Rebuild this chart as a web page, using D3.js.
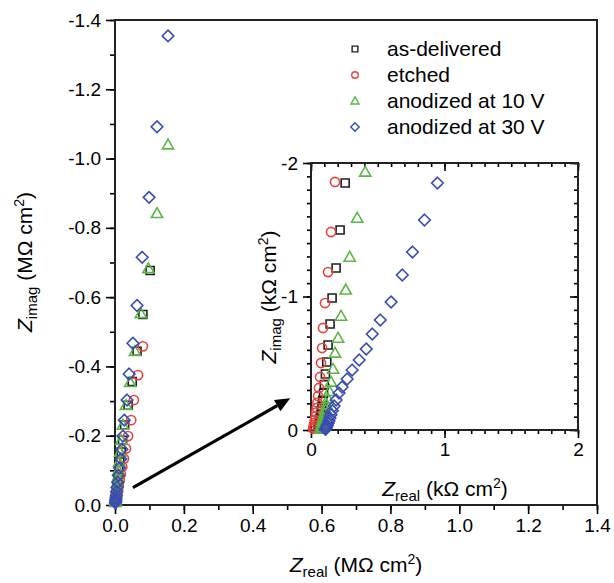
<!DOCTYPE html>
<html><head><meta charset="utf-8">
<script src="https://cdn.jsdelivr.net/npm/d3@7"></script>
<style>
body{margin:0;background:#fff;}
text{font-family:"Liberation Sans",Arial,sans-serif;fill:#000;}
</style></head>
<body><svg id="c" width="614" height="583"></svg>
<script>
// ---- data (values are -Z_imag magnitudes; axis labels show the minus sign) ----
const seriesNames = ["as-delivered","etched","anodized at 10 V","anodized at 30 V"];
const seriesShapes = ["square","circle","triangle","diamond"];
const seriesColors = ["#1e1e1e","#e8423e","#5db545","#3a4cb2"];

// main plot, MΩ cm²  [Zreal, -Zimag]
const mainAsDelivered = [[0.102,0.677],[0.081,0.550],[0.064,0.444],[0.050,0.356],[0.038,0.288],[0.028,0.231],[0.022,0.187],[0.018,0.153],[0.014,0.124],[0.011,0.100],[0.009,0.080],[0.007,0.063],[0.005,0.049],[0.004,0.038],[0.003,0.028],[0.002,0.020],[0.002,0.013],[0.001,0.008]];
const mainEtched = [[0.081,0.458],[0.067,0.375],[0.055,0.303],[0.047,0.245],[0.038,0.199],[0.032,0.163],[0.026,0.134],[0.021,0.110],[0.017,0.089],[0.014,0.072],[0.011,0.057],[0.009,0.045],[0.007,0.035],[0.005,0.026],[0.004,0.019],[0.003,0.013],[0.002,0.008]];
const mainAnod10 = [[0.154,1.040],[0.122,0.842],[0.097,0.683],[0.075,0.553],[0.058,0.444],[0.044,0.354],[0.032,0.288],[0.023,0.231],[0.018,0.187],[0.015,0.153],[0.012,0.124],[0.010,0.100],[0.008,0.080],[0.006,0.063],[0.005,0.049],[0.004,0.038],[0.003,0.028],[0.002,0.020],[0.002,0.013],[0.001,0.008]];
const mainAnod30 = [[0.154,1.354],[0.122,1.092],[0.099,0.888],[0.079,0.715],[0.064,0.576],[0.052,0.467],[0.041,0.378],[0.035,0.303],[0.027,0.245],[0.023,0.199],[0.020,0.161],[0.017,0.133],[0.013,0.107],[0.010,0.085],[0.008,0.066],[0.006,0.051],[0.005,0.039],[0.004,0.029],[0.003,0.021],[0.002,0.015],[0.002,0.010],[0.001,0.006]];

// inset, kΩ cm²
const insetAsDelivered = [[0.256,1.850],[0.218,1.498],[0.188,1.213],[0.158,0.989],[0.143,0.794],[0.128,0.637],[0.118,0.509],[0.108,0.419],[0.100,0.340],[0.094,0.275],[0.088,0.222],[0.082,0.178],[0.077,0.142],[0.072,0.112],[0.068,0.086],[0.064,0.064],[0.061,0.045],[0.058,0.029],[0.056,0.016],[0.054,0.006]];
const insetEtched = [[0.180,1.858],[0.150,1.483],[0.128,1.183],[0.105,0.951],[0.090,0.764],[0.083,0.614],[0.075,0.502],[0.068,0.397],[0.060,0.315],[0.053,0.255],[0.048,0.205],[0.043,0.165],[0.038,0.130],[0.034,0.100],[0.030,0.075],[0.026,0.054],[0.022,0.036],[0.019,0.021],[0.016,0.009]];
const insetAnod10 = [[0.406,1.933],[0.346,1.588],[0.290,1.296],[0.260,1.050],[0.225,0.854],[0.203,0.689],[0.180,0.577],[0.165,0.457],[0.150,0.360],[0.138,0.290],[0.127,0.235],[0.117,0.190],[0.108,0.152],[0.100,0.120],[0.093,0.093],[0.087,0.070],[0.082,0.050],[0.078,0.033],[0.075,0.019],[0.072,0.008]];
const insetAnod30 = [[0.947,1.850],[0.850,1.573],[0.760,1.333],[0.684,1.161],[0.600,0.959],[0.519,0.824],[0.459,0.719],[0.414,0.607],[0.361,0.524],[0.308,0.449],[0.271,0.382],[0.233,0.322],[0.210,0.277],[0.188,0.225],[0.173,0.180],[0.160,0.145],[0.150,0.115],[0.142,0.090],[0.135,0.068],[0.128,0.050],[0.122,0.035],[0.117,0.022],[0.112,0.012],[0.108,0.005]];

const mainXTicks = [0,0.2,0.4,0.6,0.8,1.0,1.2,1.4];
const mainYTicks = [0,0.2,0.4,0.6,0.8,1.0,1.2,1.4];
const insetTicks = [0,1,2];
const arrowFrom = [0.052,0.050], arrowTo = [0.509,0.308];

// ---- drawing ----
const svg = d3.select("#c");
svg.append("rect").attr("width",614).attr("height",583).attr("fill","#fff");

function symPath(shape, k){
  k = k||1;
  if(shape==="square"){const s=4*k;return `M${-s},${-s}H${s}V${s}H${-s}Z`;}
  if(shape==="circle"){const r=4.6*k;return `M${r},0A${r},${r} 0 1,1 ${-r},0A${r},${r} 0 1,1 ${r},0Z`;}
  if(shape==="triangle"){const w=5.6*k;return `M0,${-5.6*k}L${w},${4.2*k}L${-w},${4.2*k}Z`;}
  const d=5.8*k;return `M0,${-d}L${d},0L0,${d}L${-d},0Z`;
}

// main scales
const xM = d3.scaleLinear().domain([0,1.4]).range([115,597]);
const yM = d3.scaleLinear().domain([0,1.4]).range([505,20]);
const fmtM = d=> d===0? "0.0" : "-"+d.toFixed(1);

function minor(a,b,step){const r=[];for(let v=a;v<=b+1e-9;v+=step)r.push(+v.toFixed(3));return r;}

const gM = svg.append("g");
gM.append("g").attr("transform","translate(0,505)")
  .call(d3.axisBottom(xM).tickValues(minor(0,1.4,0.1)).tickSize(5).tickSizeOuter(0).tickFormat(""));
gM.append("g").attr("transform","translate(115,0)")
  .call(d3.axisLeft(yM).tickValues(minor(0,1.4,0.1)).tickSize(5).tickSizeOuter(0).tickFormat(""));
gM.append("g").attr("transform","translate(0,505)")
  .call(d3.axisBottom(xM).tickValues(mainXTicks).tickSize(9).tickSizeOuter(0).tickPadding(5).tickFormat(d=>d.toFixed(1)));
gM.append("g").attr("transform","translate(115,0)")
  .call(d3.axisLeft(yM).tickValues(mainYTicks).tickSize(9).tickSizeOuter(0).tickPadding(5).tickFormat(fmtM));
gM.selectAll(".tick line").attr("stroke","#000").attr("stroke-width",1.6);
gM.selectAll(".tick text").attr("font-size",19).attr("font-family","Liberation Sans, Arial, sans-serif").attr("fill","#000");
gM.selectAll(".domain").remove();
gM.append("rect").attr("x",xM(0)).attr("y",yM(1.4)).attr("width",xM(1.4)-xM(0)).attr("height",yM(0)-yM(1.4))
  .attr("fill","none").attr("stroke","#222").attr("stroke-width",2);

const mainSets=[mainAsDelivered,mainEtched,mainAnod10,mainAnod30];
mainSets.forEach((set,i)=>{
  gM.append("g").selectAll("path").data(set).join("path")
    .attr("d",symPath(seriesShapes[i]))
    .attr("transform",d=>`translate(${xM(d[0])},${yM(d[1])})`)
    .attr("fill","none").attr("stroke",seriesColors[i]).attr("stroke-width",1.6);
});

svg.append("text").attr("x",356).attr("y",572).attr("text-anchor","middle").attr("font-size",21)
  .html('<tspan font-style="italic">Z</tspan><tspan font-size="15" dy="5">real</tspan><tspan dy="-5"> (MΩ cm</tspan><tspan font-size="14" dy="-8">2</tspan><tspan dy="8">)</tspan>');
svg.append("text").attr("transform","translate(32,262) rotate(-90)").attr("text-anchor","middle").attr("font-size",21)
  .html('<tspan font-style="italic">Z</tspan><tspan font-size="15" dy="5">imag</tspan><tspan dy="-5"> (MΩ cm</tspan><tspan font-size="14" dy="-8">2</tspan><tspan dy="8">)</tspan>');

const legY=[49,75,101,127];
seriesNames.forEach((n,i)=>{
  svg.append("path").attr("d",symPath(seriesShapes[i],0.72)).attr("transform",`translate(355,${legY[i]})`)
    .attr("fill","none").attr("stroke",seriesColors[i]).attr("stroke-width",1.4);
  svg.append("text").attr("x",387).attr("y",legY[i]+7).attr("font-size",21).text(n);
});

const ax0=xM(arrowFrom[0]), ay0=yM(arrowFrom[1]), ax1=xM(arrowTo[0]), ay1=yM(arrowTo[1]);
const ang=Math.atan2(ay1-ay0,ax1-ax0);
const hl=15, hw=6.5;
const bx=ax1-hl*Math.cos(ang), by=ay1-hl*Math.sin(ang);
svg.append("line").attr("x1",ax0).attr("y1",ay0).attr("x2",bx).attr("y2",by).attr("stroke","#000").attr("stroke-width",3.2);
svg.append("path").attr("d",`M${ax1},${ay1}L${bx+hw*Math.sin(ang)},${by-hw*Math.cos(ang)}L${bx-hw*Math.sin(ang)},${by+hw*Math.cos(ang)}Z`).attr("fill","#000");

// ---- inset ----
const xI = d3.scaleLinear().domain([0,2]).range([311,578]);
const yI = d3.scaleLinear().domain([0,2]).range([430,163]);
const gI = svg.append("g");
gI.append("rect").attr("x",xI(0)).attr("y",yI(2)).attr("width",xI(2)-xI(0)).attr("height",yI(0)-yI(2)).attr("fill","#fff");
const mI = minor(0,2,0.1);
gI.append("g").attr("transform",`translate(0,${yI(0)})`).call(d3.axisBottom(xI).tickValues(mI).tickSize(4).tickFormat(""));
gI.append("g").attr("transform",`translate(0,${yI(2)})`).call(d3.axisTop(xI).tickValues(mI).tickSize(-4).tickFormat(""));
gI.append("g").attr("transform",`translate(${xI(0)},0)`).call(d3.axisLeft(yI).tickValues(mI).tickSize(4).tickFormat(""));
gI.append("g").attr("transform",`translate(${xI(2)},0)`).call(d3.axisRight(yI).tickValues(mI).tickSize(-4).tickFormat(""));
gI.append("g").attr("transform",`translate(0,${yI(0)})`).call(d3.axisBottom(xI).tickValues(insetTicks).tickSize(8).tickPadding(5).tickFormat(d=>String(d)));
gI.append("g").attr("transform",`translate(0,${yI(2)})`).call(d3.axisTop(xI).tickValues(insetTicks).tickSize(-8).tickFormat(""));
gI.append("g").attr("transform",`translate(${xI(0)},0)`).call(d3.axisLeft(yI).tickValues(insetTicks).tickSize(8).tickPadding(5).tickFormat(d=>d===0?"0":"-"+d));
gI.append("g").attr("transform",`translate(${xI(2)},0)`).call(d3.axisRight(yI).tickValues(insetTicks).tickSize(-8).tickFormat(""));
gI.selectAll(".domain").remove();
gI.selectAll(".tick line").attr("stroke","#000").attr("stroke-width",1.6);
gI.selectAll(".tick text").attr("font-size",19).attr("font-family","Liberation Sans, Arial, sans-serif").attr("fill","#000");
gI.append("rect").attr("x",xI(0)).attr("y",yI(2)).attr("width",xI(2)-xI(0)).attr("height",yI(0)-yI(2))
  .attr("fill","none").attr("stroke","#222").attr("stroke-width",2);

const insetSets=[insetAsDelivered,insetEtched,insetAnod10,insetAnod30];
insetSets.forEach((set,i)=>{
  gI.append("g").selectAll("path").data(set).join("path")
    .attr("d",symPath(seriesShapes[i]))
    .attr("transform",d=>`translate(${xI(d[0])},${yI(d[1])})`)
    .attr("fill","none").attr("stroke",seriesColors[i]).attr("stroke-width",1.6);
});

svg.append("text").attr("x",445).attr("y",496).attr("text-anchor","middle").attr("font-size",21)
  .html('<tspan font-style="italic">Z</tspan><tspan font-size="15" dy="5">real</tspan><tspan dy="-5"> (kΩ cm</tspan><tspan font-size="14" dy="-8">2</tspan><tspan dy="8">)</tspan>');
svg.append("text").attr("transform","translate(276,297) rotate(-90)").attr("text-anchor","middle").attr("font-size",21)
  .html('<tspan font-style="italic">Z</tspan><tspan font-size="15" dy="5">imag</tspan><tspan dy="-5"> (kΩ cm</tspan><tspan font-size="14" dy="-8">2</tspan><tspan dy="8">)</tspan>');
</script></body></html>
